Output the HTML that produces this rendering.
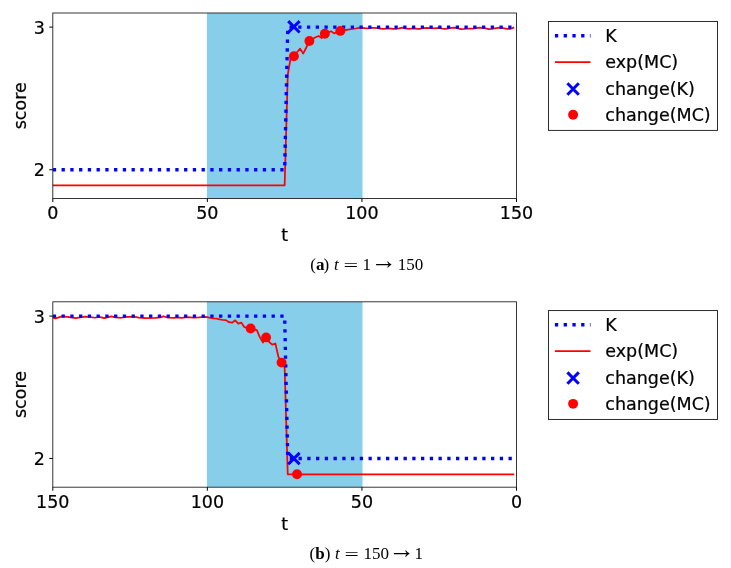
<!DOCTYPE html>
<html><head><meta charset="utf-8"><title>Figure</title>
<style>html,body{margin:0;padding:0;background:#fff}svg{display:block}text{stroke:#000;stroke-width:.22px}text.c{stroke:none}</style></head>
<body>
<svg width="731" height="568" viewBox="0 0 731 568" font-family="DejaVu Sans, sans-serif" font-size="17.5" fill="#000">
<rect width="731" height="568" fill="#fff"/>
<clipPath id="c1"><rect x="52.8" y="13.0" width="463.7" height="185.5"/></clipPath>
<rect x="206.9" y="13.0" width="155.6" height="185.5" fill="#87ceeb"/>
<g clip-path="url(#c1)">
<path d="M52.80 185.30 L284.65 185.30 L287.74 75.00 L290.83 57.00 L293.92 56.20 L297.02 52.30 L300.11 48.60 L303.20 53.60 L306.29 47.50 L309.38 41.00 L312.47 39.00 L315.56 37.30 L318.65 36.00 L321.75 38.00 L324.84 33.80 L327.93 32.50 L331.02 31.30 L334.11 33.40 L337.20 32.00 L340.29 30.90 L343.39 30.30 L346.48 29.80 L349.57 29.40 L352.66 29.00 L355.75 28.50 L358.84 27.90 L361.93 27.88 L365.02 28.21 L368.12 28.32 L371.21 27.88 L374.30 27.88 L377.39 28.21 L380.48 28.54 L383.57 28.97 L386.66 28.65 L389.76 28.43 L392.85 28.76 L395.94 28.76 L399.03 28.32 L402.12 27.66 L405.21 28.32 L408.30 28.76 L411.39 28.54 L414.49 28.43 L417.58 28.76 L420.67 28.76 L423.76 28.21 L426.85 27.99 L429.94 28.10 L433.03 28.32 L436.13 28.10 L439.22 27.88 L442.31 28.59 L445.40 28.91 L448.49 28.32 L451.58 27.91 L454.67 27.62 L457.76 28.32 L460.86 29.05 L463.95 28.90 L467.04 28.54 L470.13 28.68 L473.22 28.54 L476.31 28.10 L479.40 27.71 L482.50 27.84 L485.59 28.32 L488.68 29.05 L491.77 28.80 L494.86 28.32 L497.95 27.89 L501.04 27.68 L504.13 28.32 L507.23 28.93 L510.32 28.83 L513.41 27.66" fill="none" stroke="#ff0000" stroke-width="1.75" stroke-linejoin="round" stroke-linecap="square"/>
<path d="M52.80 169.75 L284.65 169.75 L287.74 27.10 L513.41 27.10" fill="none" stroke="#0000ff" stroke-width="3.35" stroke-dasharray="3.3 5.45"/>
</g>
<path d="M288.22 21.10L299.62 32.50M288.22 32.50L299.62 21.10" stroke="#0000ff" stroke-width="3.0" fill="none"/>
<circle cx="293.92" cy="56.20" r="4.95" fill="#ff0000"/>
<circle cx="309.38" cy="41.00" r="4.95" fill="#ff0000"/>
<circle cx="324.84" cy="33.80" r="4.95" fill="#ff0000"/>
<circle cx="340.29" cy="30.90" r="4.95" fill="#ff0000"/>
<rect x="52.8" y="13.0" width="463.7" height="185.5" fill="none" stroke="#222" stroke-width="0.9"/>
<line x1="52.80" x2="52.80" y1="198.5" y2="202.0" stroke="#000" stroke-width="1"/>
<text x="52.80" y="219.30" text-anchor="middle">0</text>
<line x1="207.37" x2="207.37" y1="198.5" y2="202.0" stroke="#000" stroke-width="1"/>
<text x="207.37" y="219.30" text-anchor="middle">50</text>
<line x1="361.93" x2="361.93" y1="198.5" y2="202.0" stroke="#000" stroke-width="1"/>
<text x="361.93" y="219.30" text-anchor="middle">100</text>
<line x1="516.50" x2="516.50" y1="198.5" y2="202.0" stroke="#000" stroke-width="1"/>
<text x="516.50" y="219.30" text-anchor="middle">150</text>
<line x1="49.3" x2="52.8" y1="27.1" y2="27.1" stroke="#000" stroke-width="1"/>
<text x="45.00" y="33.70" text-anchor="end">3</text>
<line x1="49.3" x2="52.8" y1="169.75" y2="169.75" stroke="#000" stroke-width="1"/>
<text x="45.00" y="176.35" text-anchor="end">2</text>
<text x="284.65" y="240.90" text-anchor="middle">t</text>
<text transform="translate(26.2 105.75) rotate(-90)" text-anchor="middle">score</text>
<rect x="548.5" y="21.50" width="169" height="108.9" fill="#fff" stroke="#222" stroke-width="0.95"/>
<line x1="554.9" x2="590.5" y1="35.70" y2="35.70" stroke="#0000ff" stroke-width="3.35" stroke-dasharray="3.3 5.45"/>
<line x1="554.9" x2="590.5" y1="62.00" y2="62.00" stroke="#ff0000" stroke-width="1.75"/>
<path d="M567.40 83.30L578.80 94.70M567.40 94.70L578.80 83.30" stroke="#0000ff" stroke-width="3.0" fill="none"/>
<circle cx="573.10" cy="114.80" r="4.95" fill="#ff0000"/>
<text x="605.3" y="42.10">K</text>
<text x="605.3" y="68.40">exp(MC)</text>
<text x="605.3" y="94.70">change(K)</text>
<text x="605.3" y="121.00">change(MC)</text>
<clipPath id="c2"><rect x="52.8" y="301.8" width="463.7" height="185.39999999999998"/></clipPath>
<rect x="206.9" y="301.8" width="155.6" height="185.39999999999998" fill="#87ceeb"/>
<g clip-path="url(#c2)">
<path d="M52.95 317.54 L55.47 318.30 L62.04 316.44 L67.51 316.88 L75.72 318.19 L85.02 316.66 L89.40 316.88 L94.87 317.76 L99.25 316.88 L104.17 318.19 L111.29 316.44 L115.66 317.32 L121.14 317.76 L126.61 316.88 L128.00 316.88 L133.47 316.66 L138.94 317.54 L145.51 318.19 L155.36 317.97 L160.83 317.32 L163.57 316.22 L167.40 317.54 L173.96 317.76 L177.25 317.32 L181.63 317.97 L187.10 317.10 L193.66 317.54 L199.14 317.32 L204.61 316.88 L207.37 317.20 L210.46 318.00 L213.55 318.40 L216.64 318.70 L219.73 319.40 L222.82 320.00 L225.91 320.10 L229.01 322.20 L232.10 322.70 L235.19 320.30 L238.28 323.70 L241.37 322.70 L244.46 327.20 L247.55 327.90 L250.65 328.50 L253.74 329.30 L256.83 330.10 L259.92 337.40 L263.01 342.60 L266.10 337.40 L269.19 342.00 L272.28 344.60 L275.38 343.50 L278.47 357.00 L281.56 362.60 L284.65 367.50 L287.74 474.30 L513.41 474.30" fill="none" stroke="#ff0000" stroke-width="1.75" stroke-linejoin="round" stroke-linecap="square"/>
<path d="M52.80 316.10 L284.65 316.10 L287.74 458.45 L513.41 458.45" fill="none" stroke="#0000ff" stroke-width="3.35" stroke-dasharray="3.3 5.45"/>
</g>
<path d="M288.22 452.85L299.62 464.25M288.22 464.25L299.62 452.85" stroke="#0000ff" stroke-width="3.0" fill="none"/>
<circle cx="250.65" cy="328.50" r="4.95" fill="#ff0000"/>
<circle cx="266.10" cy="337.40" r="4.95" fill="#ff0000"/>
<circle cx="281.56" cy="362.60" r="4.95" fill="#ff0000"/>
<circle cx="297.02" cy="474.30" r="4.95" fill="#ff0000"/>
<rect x="52.8" y="301.8" width="463.7" height="185.39999999999998" fill="none" stroke="#222" stroke-width="0.9"/>
<line x1="52.80" x2="52.80" y1="487.2" y2="490.7" stroke="#000" stroke-width="1"/>
<text x="52.80" y="508.00" text-anchor="middle">150</text>
<line x1="207.37" x2="207.37" y1="487.2" y2="490.7" stroke="#000" stroke-width="1"/>
<text x="207.37" y="508.00" text-anchor="middle">100</text>
<line x1="361.93" x2="361.93" y1="487.2" y2="490.7" stroke="#000" stroke-width="1"/>
<text x="361.93" y="508.00" text-anchor="middle">50</text>
<line x1="516.50" x2="516.50" y1="487.2" y2="490.7" stroke="#000" stroke-width="1"/>
<text x="516.50" y="508.00" text-anchor="middle">0</text>
<line x1="49.3" x2="52.8" y1="316.1" y2="316.1" stroke="#000" stroke-width="1"/>
<text x="45.00" y="322.70" text-anchor="end">3</text>
<line x1="49.3" x2="52.8" y1="458.45" y2="458.45" stroke="#000" stroke-width="1"/>
<text x="45.00" y="465.05" text-anchor="end">2</text>
<text x="284.65" y="529.60" text-anchor="middle">t</text>
<text transform="translate(26.2 394.50) rotate(-90)" text-anchor="middle">score</text>
<rect x="548.5" y="310.55" width="169" height="108.9" fill="#fff" stroke="#222" stroke-width="0.95"/>
<line x1="554.9" x2="590.5" y1="324.75" y2="324.75" stroke="#0000ff" stroke-width="3.35" stroke-dasharray="3.3 5.45"/>
<line x1="554.9" x2="590.5" y1="351.05" y2="351.05" stroke="#ff0000" stroke-width="1.75"/>
<path d="M567.40 372.35L578.80 383.75M567.40 383.75L578.80 372.35" stroke="#0000ff" stroke-width="3.0" fill="none"/>
<circle cx="573.10" cy="403.85" r="4.95" fill="#ff0000"/>
<text x="605.3" y="331.15">K</text>
<text x="605.3" y="357.45">exp(MC)</text>
<text x="605.3" y="383.75">change(K)</text>
<text x="605.3" y="410.05">change(MC)</text>
<text class="c" font-family="Liberation Serif, serif" font-size="17" x="310.2" y="269.80" >(</text>
<text class="c" font-family="Liberation Serif, serif" font-size="17" x="315.9" y="269.80" font-weight="bold">a</text>
<text class="c" font-family="Liberation Serif, serif" font-size="17" x="323.6" y="269.80" >)</text>
<text class="c" font-family="Liberation Serif, serif" font-size="17" x="333.9" y="269.80" font-style="italic">t</text>
<text class="c" font-family="Liberation Serif, serif" font-size="17" x="343.5" y="271.05" textLength="14.67" lengthAdjust="spacingAndGlyphs">=</text>
<text class="c" font-family="Liberation Serif, serif" font-size="17" x="362.6" y="269.80" >1</text>
<text class="c" font-family="Liberation Serif, serif" x="371.0" y="269.20" font-size="25.84">→</text>
<text class="c" font-family="Liberation Serif, serif" font-size="17" x="397.7" y="269.80" >150</text>
<text class="c" font-family="Liberation Serif, serif" font-size="17" x="309.5" y="558.70" >(</text>
<text class="c" font-family="Liberation Serif, serif" font-size="17" x="315.2" y="558.70" font-weight="bold">b</text>
<text class="c" font-family="Liberation Serif, serif" font-size="17" x="324.7" y="558.70" >)</text>
<text class="c" font-family="Liberation Serif, serif" font-size="17" x="335.0" y="558.70" font-style="italic">t</text>
<text class="c" font-family="Liberation Serif, serif" font-size="17" x="344.6" y="559.95" textLength="14.30" lengthAdjust="spacingAndGlyphs">=</text>
<text class="c" font-family="Liberation Serif, serif" font-size="17" x="363.6" y="558.70" >150</text>
<text class="c" font-family="Liberation Serif, serif" x="388.5" y="558.10" font-size="26.35">→</text>
<text class="c" font-family="Liberation Serif, serif" font-size="17" x="414.6" y="558.70" >1</text>
</svg>
</body></html>
